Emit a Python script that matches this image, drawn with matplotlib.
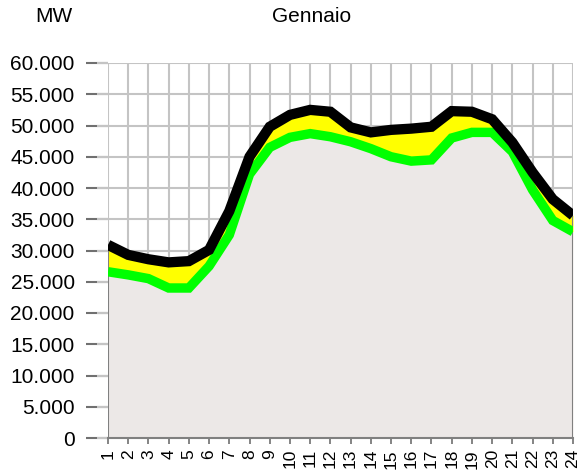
from matplotlib import pyplot as plt
import numpy as np

plt.rcParams['font.family'] = ['Liberation Sans', 'DejaVu Sans']

# dati (MW)
ore = np.arange(1, 25)
massimo = [30900, 29300, 28600, 28100, 28300, 30100, 36300, 45000, 49800, 51700, 52500, 52200,
           49700, 48900, 49300, 49500, 49800, 52300, 52200, 51000, 47300, 42500, 38200, 35600]
minimo = [26600, 26100, 25500, 24000, 24000, 27500, 32500, 42200, 46500, 48100, 48700, 48200,
          47400, 46300, 45000, 44300, 44500, 48000, 48900, 48900, 45800, 39700, 34800, 33000]
yticks = np.arange(0, 60001, 5000)
ylabels = ['0'] + ['{:,}'.format(v).replace(',', '.') for v in yticks[1:]]

fig = plt.figure(figsize=(5.84, 4.72), dpi=100)
ax = fig.add_axes([108/584, 34/472, 465/584, 375/472])

# area grigia e banda gialla
ax.fill_between(ore, 0, minimo, color='#ece8e7', lw=0, zorder=2)
ax.fill_between(ore, minimo, massimo, color='#ffff00', lw=0, zorder=2)
ax.vlines([ore[0], ore[-1]], 0, [massimo[0], massimo[-1]], color='#808080', lw=1.5, zorder=2.5)

# linee spesse
ax.plot(ore, minimo, color='#00ff00', lw=6.8, solid_joinstyle='miter',
        solid_capstyle='butt', zorder=3)
ax.plot(ore, massimo, color='black', lw=7.4, solid_joinstyle='miter',
        solid_capstyle='butt', zorder=4)

ax.set_xlim(1, 24)
ax.set_ylim(0, 60000)
ax.set_xticks(ore)
ax.set_xticklabels([str(h) for h in ore], rotation=90, fontsize=12.5, va='top')
ax.set_yticks(yticks)
ax.set_yticklabels(ylabels, fontsize=15)
ax.set_yticks(yticks, minor=True)
ax.yaxis.remove_overlapping_locs = False

ax.grid(True, color='#c4c4c4', lw=1.5, zorder=0)
ax.set_axisbelow(True)

for s in ['top', 'right', 'left']:
    ax.spines[s].set_visible(False)
ax.spines['bottom'].set_color('#808080')
ax.spines['bottom'].set_linewidth(1.5)
ax.spines['bottom'].set_zorder(5)

ax.tick_params(axis='y', which='major', direction='out', length=16, width=1.5,
               color='#707070', pad=8)
ax.tick_params(axis='y', which='minor', direction='out', length=8, width=1.5,
               color='#c4c4c4')
ax.tick_params(axis='x', direction='out', length=4, width=1.2, color='#707070', pad=4)

fig.text(35/584, 1 - 17/472, 'MW', fontsize=15, va='center', ha='left')
fig.text(312/584, 1 - 17/472, 'Gennaio', fontsize=15, va='center', ha='center')

fig.savefig('out.png', dpi=100)
